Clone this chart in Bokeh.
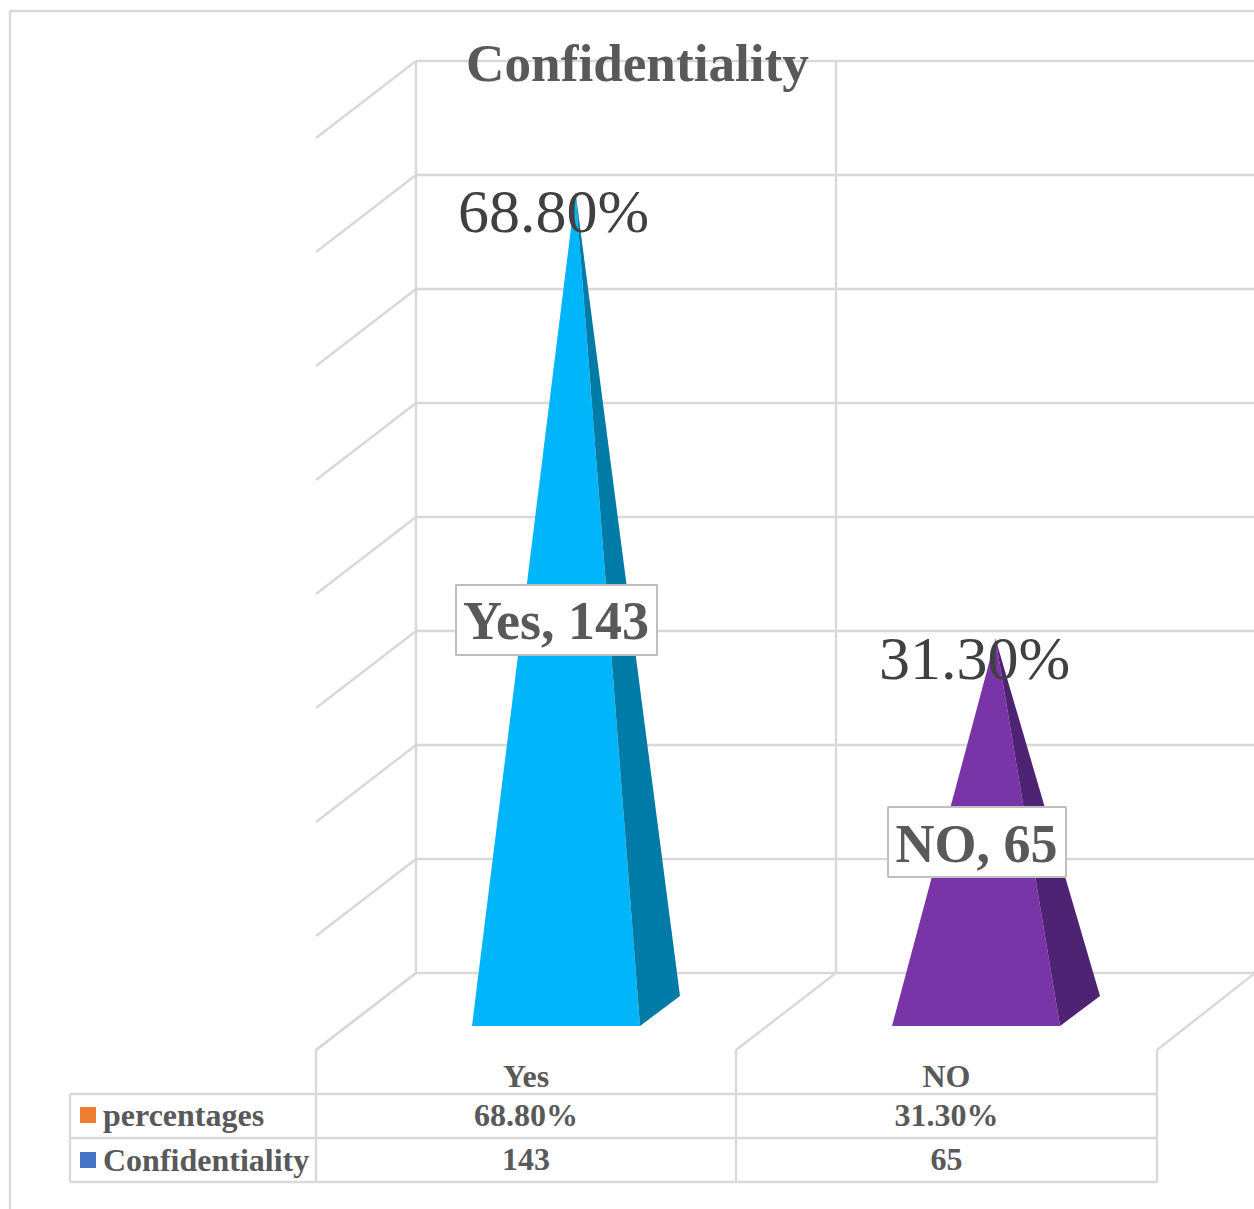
from bokeh.core.properties import value
from bokeh.embed import file_html
from bokeh.models import Range1d
from bokeh.plotting import figure
from bokeh.resources import INLINE

# Survey results
categories = ["Yes", "NO"]
counts = [143, 65]
percentages = [68.80, 31.30]
series_names = ["percentages", "Confidentiality"]
series_colors = ["#ED7D31", "#4472C4"]
front_colors = ["#00B5FA", "#7935A8"]
side_colors = ["#007BA7", "#4F2373"]
gridline_values = list(range(0, 180, 20))

# Oblique projection of the 3-D chart box, in page pixels
WALL_FLOOR_Y = 973
UNIT = 5.7               # pixels per count
PYRAMID_FLOOR_Y = 1011
DEPTH_DX, DEPTH_DY = -100, 77
SLOT_X = [316, 736, 1157]
WALL_RIGHT = 1255
LINE = "#D9D9D9"
SERIF = value("Liberation Serif")

p = figure(width=1254, height=1209, output_backend="svg", toolbar_location=None,
           x_range=Range1d(0.5, 1254.5), y_range=Range1d(1209.5, 0.5),
           min_border=0, outline_line_color=None, background_fill_color="white")
p.axis.visible = False
p.grid.visible = False


def rule(xs, ys, width=2.4, color=LINE):
    p.line(xs, ys, line_color=color, line_width=width)


def label(x, y, text, size, color="#595959", bold=True, align="center"):
    p.text([x], [y], text=[text], text_font=SERIF, text_font_size=f"{size}px",
           text_font_style="bold" if bold else "normal", text_color=color,
           text_align=align, text_baseline="alphabetic")


# Chart frame
rule([10, 10], [11, 1210])
rule([10, 1255], [11, 11])

# Back wall and side wall gridlines
back_left = SLOT_X[0] - DEPTH_DX
back_mid = SLOT_X[1] - DEPTH_DX
for v in gridline_values:
    y = WALL_FLOOR_Y - v * UNIT
    rule([back_left, WALL_RIGHT], [y, y])
    rule([back_left, back_left + DEPTH_DX], [y, y + DEPTH_DY])
wall_top = WALL_FLOOR_Y - gridline_values[-1] * UNIT
rule([back_left, back_left], [wall_top, WALL_FLOOR_Y])
rule([back_mid, back_mid], [wall_top, WALL_FLOOR_Y])

# Floor edges
floor_front = WALL_FLOOR_Y + DEPTH_DY
rule([back_left, SLOT_X[0]], [WALL_FLOOR_Y, floor_front])
rule([back_mid, SLOT_X[1]], [WALL_FLOOR_Y, floor_front])
rule([WALL_RIGHT, SLOT_X[2]], [WALL_FLOOR_Y, floor_front])

# Data table grid
TABLE_ROWS = [1094, 1138, 1182]
TABLE_LEFT = 70
for x in SLOT_X:
    rule([x, x], [floor_front, TABLE_ROWS[-1]])
rule([TABLE_LEFT, TABLE_LEFT], [TABLE_ROWS[0], TABLE_ROWS[-1]])
for y in TABLE_ROWS:
    rule([TABLE_LEFT, SLOT_X[-1]], [y, y])

# Stacked pyramids: the percentage series, as a fraction, forms the very tip
BASE_LEFT = [472, 892]
BASE_WIDTH = 168
BASE_FRONT_Y = 1026
BASE_BACK_DX, BASE_BACK_DY = 40, -30
for i, count in enumerate(counts):
    left = BASE_LEFT[i]
    right = left + BASE_WIDTH
    total = count + percentages[i] / 100
    apex_x = (left + right + BASE_BACK_DX) / 2 - 0.5
    apex_y = PYRAMID_FLOOR_Y - total * UNIT
    p.patch([left, right, apex_x], [BASE_FRONT_Y, BASE_FRONT_Y, apex_y],
            fill_color=front_colors[i], line_color=None)
    p.patch([right, right + BASE_BACK_DX, apex_x],
            [BASE_FRONT_Y, BASE_FRONT_Y + BASE_BACK_DY, apex_y],
            fill_color=side_colors[i], line_color=None)
    tip_y = PYRAMID_FLOOR_Y - count * UNIT
    p.patch([apex_x - 0.6, apex_x + 0.6, apex_x], [tip_y, tip_y, apex_y],
            fill_color=series_colors[0], line_color=None)

# Percentage labels above the apexes
PCT_X = [553.5, 974.5]
PCT_Y = [211, 658]
for x, y, pct in zip(PCT_X, PCT_Y, percentages):
    label(x, y, f"{pct:.2f}%", 62, color="#404040", bold=False)

# Boxed category and count labels
BOXES = [(456, 657, 585, 655), (888, 1066, 807, 877)]
BOX_TEXT_Y = [621, 844]
for (x0, x1, y0, y1), ty, cat, count in zip(BOXES, BOX_TEXT_Y, categories, counts):
    p.quad(left=[x0], right=[x1], top=[y0], bottom=[y1], fill_color="white",
           line_color="#BFBFBF", line_width=2)
    label((x0 + x1) / 2 - 0.5, ty, f"{cat}, {count}", 54)

# Title
label(637.5, 63, "Confidentiality", 53.2)

# Data table contents
ROW_TEXT_Y = [1076, 1115, 1159.5]
for i, cat in enumerate(categories):
    cx = (SLOT_X[i] + SLOT_X[i + 1]) / 2
    label(cx, ROW_TEXT_Y[0], cat, 32)
    label(cx, ROW_TEXT_Y[1], f"{percentages[i]:.2f}%", 32)
    label(cx, ROW_TEXT_Y[2], str(counts[i]), 32)

# Series keys in the table's first column
KEY_TOPS = [1107, 1152]
for name, color, top, ty in zip(series_names, series_colors, KEY_TOPS, ROW_TEXT_Y[1:]):
    p.quad(left=[80], right=[96], top=[top], bottom=[top + 16], fill_color=color, line_color=None)
    label(103, ty, name, 32, align="left")

open("out.html", "w").write(file_html(p, INLINE))
